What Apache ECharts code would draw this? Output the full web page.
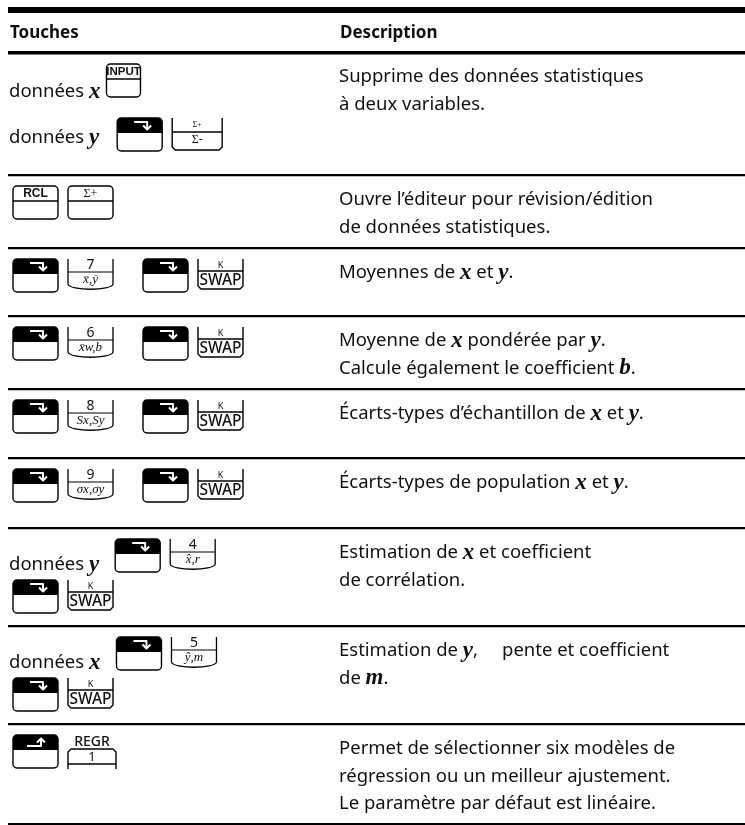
<!DOCTYPE html>
<html><head><meta charset="utf-8">
<script src="https://cdn.jsdelivr.net/npm/echarts@6/dist/echarts.min.js"></script>
<style>html,body{margin:0;padding:0;background:#fff}#c{width:745px;height:825px}</style>
</head><body><div id="c"></div>
<script>
// ---------- data ----------
const headers = ['Touches', 'Description'];
const descriptions = [
  ['Supprime des données statistiques', 'à deux variables.'],
  ['Ouvre l’éditeur pour révision/édition', 'de données statistiques.'],
  ['Moyennes de *x* et *y*.'],
  ['Moyenne de *x* pondérée par *y*.', 'Calcule également le coefficient *b*.'],
  ['Écarts-types d’échantillon de *x* et *y*.'],
  ['Écarts-types de population *x* et *y*.'],
  ['Estimation de *x* et coefficient', 'de corrélation.'],
  ['Estimation de *y*,     pente et coefficient', 'de *m*.'],
  ['Permet de sélectionner six modèles de', 'régression ou un meilleur ajustement.', 'Le paramètre par défaut est linéaire.']
];
// key sequences: each row = list of lines; each line = optional prefix + keys
const keyRows = [
  [{ pre: 'données *x*', keys: [['plain', 'INPUT']] },
   { pre: 'données *y*', keys: [['rshift'], ['sigma', 'Σ+', 'Σ-']] }],
  [{ keys: [['plain', 'RCL'], ['plain', 'Σ+']] }],
  [{ keys: [['rshift'], ['num', '7', 'x̄,ȳ'], ['gap'], ['rshift'], ['swap', 'K', 'SWAP']] }],
  [{ keys: [['rshift'], ['num', '6', 'x̄w,b'], ['gap'], ['rshift'], ['swap', 'K', 'SWAP']] }],
  [{ keys: [['rshift'], ['num', '8', 'Sx,Sy'], ['gap'], ['rshift'], ['swap', 'K', 'SWAP']] }],
  [{ keys: [['rshift'], ['num', '9', 'σx,σy'], ['gap'], ['rshift'], ['swap', 'K', 'SWAP']] }],
  [{ pre: 'données *y*', keys: [['rshift'], ['num', '4', 'x̂,r']] },
   { keys: [['rshift'], ['swap', 'K', 'SWAP']] }],
  [{ pre: 'données *x*', keys: [['rshift'], ['num', '5', 'ŷ,m']] },
   { keys: [['rshift'], ['swap', 'K', 'SWAP']] }],
  [{ keys: [['lshift'], ['regr', 'REGR', '1']] }]
];

// ---------- layout ----------
const L = {
  left: 8, right: 745,
  rules: [52, 175, 248, 316, 389, 458, 528, 626, 724, 824],
  descX: 339, textX: 9,
  font: '"Noto Sans"', size: 18.5, headSize: 17,
  varFont: 'Liberation Serif', varSize: 23,
  keyW: 45, keyH: 33, keyGap: 10, groupGap: 20,
  // per row: key line tops (offset from rule), prefix text centre (offset from key top), gap after prefix
  lineTops: { 0: [12, 66] },
  preOffset: { 0: [28, 20] },
  preGap: { 0: [6, 18] }, preGapDefault: 16
};
const SANS = L.font;
const rich = {
  n: { fontFamily: SANS, fontSize: L.size, fill: '#111', lineHeight: 26 },
  v: { fontFamily: L.varFont, fontSize: L.varSize, fontWeight: 'bold', fontStyle: 'italic', fill: '#111', lineHeight: 26 }
};
function toRich(s) {
  const parts = s.split('*');
  return parts.map((p, i) => p === '' ? '' : (i % 2 ? '{v|' + p + '}' : '{n|' + p + '}')).join('');
}
const ctx = document.createElement('canvas').getContext('2d');
function measure(s) {
  let w = 0;
  s.split('*').forEach((p, i) => {
    ctx.font = i % 2 ? `italic bold ${L.varSize}px "${L.varFont}"` : `${L.size}px ${SANS}`;
    w += ctx.measureText(p).width;
  });
  return w;
}

const els = [];
function rect(x, y, w, h, extra) {
  els.push(Object.assign({ type: 'rect', shape: { x, y, width: w, height: h }, style: { fill: '#000' }, silent: true }, extra || {}));
}
function line(x1, y1, x2, y2, lw, col) {
  els.push({ type: 'line', shape: { x1, y1, x2, y2 }, style: { stroke: col || '#000', lineWidth: lw || 1.3 }, silent: true });
}
function poly(pts, lw, col) {
  els.push({ type: 'polyline', shape: { points: pts }, style: { stroke: col || '#000', lineWidth: lw || 1.3, fill: null, lineJoin: 'round' }, silent: true });
}
function text(x, y, t, font, align) {
  const a = align || 'center';
  els.push({ type: 'text', x, y, silent: true, style: { text: t, font, fill: '#111', align: a, verticalAlign: 'middle', textAlign: a, textVerticalAlign: 'middle' } });
}

// key painters
function keyPlain(x, y, label) {
  const w = label === 'INPUT' ? 34 : L.keyW, h = L.keyH;
  els.push({ type: 'rect', shape: { x, y, width: w, height: h, r: 4 }, style: { fill: '#fff', stroke: '#000', lineWidth: 1.4 }, silent: true });
  line(x, y + 15, x + w, y + 15, 1.3);
  if (label === 'INPUT') text(x + w / 2, y + 8, label, `bold 11.5px "Liberation Sans Narrow", "Liberation Sans"`);
  else if (label === 'RCL') text(x + w / 2, y + 8, label, `bold 12px "Liberation Sans"`);
  else text(x + w / 2, y + 8, label, `12px "Liberation Serif"`);
  return w;
}
function keyShift(x, y, dir) {
  const w = L.keyW, h = L.keyH;
  els.push({ type: 'rect', shape: { x, y, width: w, height: h, r: 4 }, style: { fill: '#fff', stroke: '#000', lineWidth: 1.4 }, silent: true });
  els.push({ type: 'rect', shape: { x, y, width: w, height: 15, r: [4, 4, 0, 0] }, style: { fill: '#000' }, silent: true });
  if (dir === 'r') {
    poly([[x + 17, y + 4], [x + 30, y + 4], [x + 30, y + 11]], 2, '#fff');
    poly([[x + 26, y + 7.5], [x + 30, y + 11.5], [x + 34, y + 7.5]], 2, '#fff');
  } else {
    poly([[x + 14, y + 11], [x + 28, y + 11], [x + 28, y + 4]], 2, '#fff');
    poly([[x + 24, y + 7.5], [x + 28, y + 3.5], [x + 32, y + 7.5]], 2, '#fff');
  }
  return w;
}
function keyNum(x, y, top, bot) {
  const w = L.keyW, h = L.keyH;
  line(x, y, x, y + h - 8, 1.3);
  line(x + w, y, x + w, y + h - 8, 1.3);
  els.push({ type: 'bezierCurve', shape: { x1: x, y1: y + h - 8, cpx1: x + 1, cpy1: y + h - 1, cpx2: x + w - 1, cpy2: y + h - 1, x2: x + w, y2: y + h - 8 }, style: { stroke: '#000', lineWidth: 1.3, fill: null }, silent: true });
  line(x, y + 13, x + w, y + 13, 1.2);
  text(x + w / 2, y + 6.5, top, `14px ${SANS}`);
  text(x + w / 2, y + 20.5, bot, `italic 13px "Liberation Serif"`);
  return w;
}
function keyOpen(x, y, top, bot, kind) {
  const w = kind === 'sigma' ? 50 : L.keyW, h = kind === 'sigma' ? 32 : 30;
  poly([[x, y], [x, y + h - 3], [x + 3, y + h], [x + w - 3, y + h], [x + w, y + h - 3], [x + w, y]], 1.4);
  const my = kind === 'sigma' ? y + 14 : y + 12;
  line(x, my, x + w, my, 1.3);
  if (kind === 'sigma') {
    text(x + w / 2, y + 7, top, `8px "Liberation Serif"`);
    text(x + w / 2, y + 22, bot, `12px "Liberation Serif"`);
  } else {
    text(x + w / 2, y + 6, top, `9px ${SANS}`);
    text(x + w / 2, y + 21.5, bot, `500 15.5px ${SANS}`);
  }
  return w;
}
function keyRegr(x, y, top, lab) {
  const w = 48;
  text(x + w / 2, y + 7, top, `500 14px ${SANS}`);
  const ky = y + 14;
  poly([[x, ky + 20], [x, ky + 3], [x + 3, ky], [x + w - 3, ky], [x + w, ky + 3], [x + w, ky + 20]], 1.4);
  line(x, ky + 15, x + w, ky + 15, 1.3);
  text(x + w / 2, ky + 8, lab, `13px ${SANS}`);
  return w;
}

// rules
rect(L.left, 7, L.right - L.left, 6);
rect(L.left, 51, L.right - L.left, 3.5);
L.rules.slice(1).forEach(y => rect(L.left, y - 1, L.right - L.left, 2.2));

// headers
text(L.textX + 1, 33, headers[0], `bold ${L.headSize}px ${SANS}`, 'left');
text(L.descX + 1, 33, headers[1], `bold ${L.headSize}px ${SANS}`, 'left');

// descriptions
descriptions.forEach((lines, i) => {
  const top = L.rules[i];
  lines.forEach((s, j) => {
    els.push({ type: 'text', x: L.descX, y: top + 25 + j * 27.5, silent: true,
      style: { text: toRich(s), rich, align: 'left', verticalAlign: 'middle', textAlign: 'left', textVerticalAlign: 'middle' } });
  });
});

// keys
keyRows.forEach((lines, i) => {
  const top = L.rules[i];
  lines.forEach((ln, j) => {
    const ky = top + (L.lineTops[i] ? L.lineTops[i][j] : 11 + j * 41);
    let x = 13;
    if (ln.pre) {
      const off = L.preOffset[i] ? L.preOffset[i][j] : 26;
      const gap = L.preGap[i] ? L.preGap[i][j] : L.preGapDefault;
      els.push({ type: 'text', x: L.textX, y: ky + off, silent: true,
        style: { text: toRich(ln.pre), rich, align: 'left', verticalAlign: 'middle', textAlign: 'left', textVerticalAlign: 'middle' } });
      x = L.textX + measure(ln.pre) + gap;
    }
    ln.keys.forEach(k => {
      let w = 0;
      switch (k[0]) {
        case 'plain': w = keyPlain(x, ky, k[1]); break;
        case 'rshift': w = keyShift(x, ky, 'r'); break;
        case 'lshift': w = keyShift(x, ky, 'l'); break;
        case 'num': w = keyNum(x, ky, k[1], k[2]); break;
        case 'sigma': w = keyOpen(x, ky, k[1], k[2], 'sigma'); break;
        case 'swap': w = keyOpen(x, ky, k[1], k[2], 'swap'); break;
        case 'regr': w = keyRegr(x, ky, k[1], k[2]); break;
        case 'gap': w = L.groupGap - L.keyGap; break;
      }
      x += w + L.keyGap;
    });
  });
});

const chart = echarts.init(document.getElementById('c'), null, { renderer: 'canvas' });
chart.setOption({ backgroundColor: '#fff', animation: false, graphic: { elements: els } });
</script></body></html>
